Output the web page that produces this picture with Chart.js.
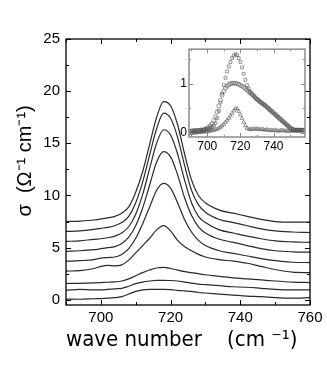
<!DOCTYPE html>
<html>
<head>
<meta charset="utf-8">
<script src="https://cdn.jsdelivr.net/npm/chart.js@4.4.1/dist/chart.umd.min.js"></script>
<style>
body{margin:0;background:#fff;}
#wrap{position:relative;width:327px;height:382px;}
#mainChart{position:absolute;left:0;top:0;}
#insetChart{position:absolute;left:170px;top:40px;}
</style>
</head>
<body>
<div id="wrap">
<canvas id="mainChart" width="327" height="382"></canvas>
<canvas id="insetChart" width="140" height="115"></canvas>
</div>
<script>
/*====================================
        MAIN SPECTRA DATA
====================================*/

const waveNumber = [690,694,698,700,702,704,706,708,710,712,714,716,718,720,722,724,726,728,730,734,738,742,746,750,755,760];

const curve1 = [7.5,7.55,7.65,7.75,7.85,8.0,8.3,8.9,10.3,12.3,14.9,17.5,19.0,18.6,16.8,14.0,11.5,10.0,9.3,8.6,8.3,8.0,7.7,7.5,7.45,7.45];
const curve2 = [6.55,6.6,6.75,6.85,6.95,7.1,7.4,8.0,9.3,11.3,13.9,16.4,17.9,17.4,15.6,12.9,10.5,9.1,8.4,7.7,7.4,7.1,6.8,6.6,6.5,6.45];
const curve3 = [5.6,5.65,5.8,5.85,5.95,6.1,6.4,7.0,8.2,10.1,12.6,15.0,16.3,15.8,14.0,11.5,9.3,8.0,7.4,6.7,6.4,6.1,5.85,5.65,5.55,5.5];
const curve4 = [4.65,4.7,4.8,4.9,5.0,5.1,5.4,6.0,7.1,8.8,11.0,13.2,14.2,13.7,12.0,9.8,8.1,7.0,6.4,5.8,5.5,5.2,4.9,4.7,4.6,4.57];
const curve5 = [3.7,3.75,3.85,4.0,4.05,4.1,4.35,4.9,5.9,7.3,8.9,10.5,11.15,10.7,9.3,7.7,6.5,5.7,5.2,4.7,4.45,4.2,3.95,3.75,3.6,3.57];
const curve6 = [2.75,2.8,3.0,3.2,3.3,3.25,3.35,3.8,4.5,5.2,5.9,6.7,7.1,6.6,5.7,5.1,4.7,4.35,4.1,3.85,3.7,3.5,3.2,2.9,2.65,2.6];
const curve7 = [1.56,1.58,1.62,1.65,1.68,1.72,1.8,2.0,2.3,2.6,2.85,3.05,3.1,3.0,2.85,2.7,2.6,2.5,2.4,2.25,2.1,2.0,1.9,1.8,1.7,1.65];
const curve8 = [0.9,1.0,0.95,0.95,1.0,1.05,1.1,1.3,1.55,1.7,1.8,1.87,1.87,1.85,1.8,1.7,1.6,1.5,1.45,1.35,1.25,1.2,1.1,1.0,0.95,0.95];
const curve9 = [0.07,0.05,0.1,0.12,0.15,0.2,0.3,0.55,0.8,0.95,1.0,1.0,1.0,0.98,0.9,0.85,0.8,0.7,0.65,0.55,0.45,0.35,0.3,0.2,0.15,0.2];

const curves = [curve1,curve2,curve3,curve4,curve5,curve6,curve7,curve8,curve9];

const xTicks = [700,720,740,760];
const xMinor = [690,710,730,750];
const yTicks = [0,5,10,15,20,25];
const yMinor = [2.5,7.5,12.5,17.5,22.5];


/*====================================
        INSET DATA
====================================*/

const insetX = [690,691,692,693,694,695,696,697,698,699,700,701,702,703,704,705,706,707,708,709,710,711,712,713,714,715,716,717,718,719,720,721,722,723,724,725,726,727,728,729,730,731,732,733,734,735,736,737,738,739,740,741,742,743,744,745,746,747,748,749,750,751,752,753,754,755,756,757,758];

const insetSquares = [0.05,0.04,0.06,0.05,0.05,0.06,0.05,0.07,0.06,0.07,0.08,0.08,0.1,0.12,0.15,0.2,0.3,0.45,0.62,0.8,0.97,1.12,1.25,1.35,1.44,1.52,1.57,1.6,1.58,1.52,1.44,1.33,1.2,1.08,0.97,0.9,0.84,0.8,0.76,0.72,0.69,0.66,0.63,0.6,0.58,0.55,0.52,0.49,0.46,0.43,0.4,0.37,0.34,0.31,0.28,0.25,0.22,0.19,0.16,0.13,0.1,0.08,0.07,0.06,0.07,0.06,0.05,0.06,0.06];

const insetCircles = [0.03,0.04,0.03,0.05,0.04,0.05,0.06,0.05,0.07,0.08,0.1,0.12,0.15,0.19,0.25,0.33,0.43,0.55,0.67,0.77,0.85,0.91,0.95,0.98,1.0,1.01,1.01,1.01,1.0,0.99,0.97,0.95,0.93,0.9,0.87,0.84,0.81,0.78,0.75,0.72,0.68,0.66,0.63,0.61,0.58,0.56,0.53,0.5,0.47,0.44,0.41,0.38,0.35,0.32,0.29,0.26,0.23,0.2,0.17,0.14,0.11,0.09,0.07,0.06,0.05,0.06,0.05,0.06,0.05];

const insetTriangles = [-0.01,0.0,0.01,0.0,0.02,0.01,0.02,0.03,0.02,0.03,0.04,0.03,0.05,0.05,0.06,0.07,0.08,0.1,0.12,0.15,0.18,0.22,0.26,0.3,0.35,0.4,0.45,0.5,0.49,0.44,0.37,0.3,0.22,0.15,0.1,0.08,0.07,0.08,0.09,0.08,0.09,0.08,0.07,0.08,0.07,0.06,0.07,0.06,0.05,0.06,0.05,0.06,0.05,0.04,0.05,0.06,0.05,0.04,0.05,0.04,0.04,0.05,0.04,0.05,0.06,0.05,0.06,0.05,0.06];

const insetXTicks = [700,720,740];
const insetXMinor = [690,710,730,750];
const insetYTicks = [0,1];
const insetYMinor = [0.5,1.5];


/*====================================
        FRAME + INWARD TICKS
====================================*/

function frameTicks(color, width, xMaj, xMin, yMaj, yMin, majLen, minLen){
    return {
        id:"frameTicks",
        afterDraw(chart){
            const ctx = chart.ctx;
            const a = chart.chartArea;
            const sx = chart.scales.x;
            const sy = chart.scales.y;
            ctx.save();
            ctx.strokeStyle = color;
            ctx.lineWidth = width;
            ctx.strokeRect(a.left, a.top, a.right - a.left, a.bottom - a.top);
            ctx.lineWidth = 1;
            ctx.beginPath();
            const tx = (v, len) => {
                const p = Math.round(sx.getPixelForValue(v)) + 0.5;
                ctx.moveTo(p, a.bottom); ctx.lineTo(p, a.bottom - len);
                ctx.moveTo(p, a.top); ctx.lineTo(p, a.top + len);
            };
            const ty = (v, len) => {
                const p = Math.round(sy.getPixelForValue(v)) + 0.5;
                ctx.moveTo(a.left, p); ctx.lineTo(a.left + len, p);
                ctx.moveTo(a.right, p); ctx.lineTo(a.right - len, p);
            };
            xMaj.forEach(v => tx(v, majLen));
            xMin.forEach(v => tx(v, minLen));
            yMaj.forEach(v => ty(v, majLen));
            yMin.forEach(v => ty(v, minLen));
            ctx.stroke();
            ctx.restore();
        }
    };
}


/*====================================
        MAIN CHART
====================================*/

const mainChart = new Chart(

document.getElementById("mainChart"),

{

type:"line",

data:{
    datasets: curves.map(c => ({
        data: waveNumber.map((x, i) => ({x: x, y: c[i]})),
        borderColor:"#2a2a2a",
        borderWidth:1.2,
        pointRadius:0,
        fill:false,
        cubicInterpolationMode:"monotone"
    }))
},

options:{
    responsive:false,
    animation:false,
    layout:{padding:{left:0, right:17, top:39, bottom:0}},
    plugins:{
        legend:{display:false},
        tooltip:{enabled:false}
    },
    scales:{
        x:{
            type:"linear",
            min:690,
            max:760,
            afterBuildTicks: s => { s.ticks = xTicks.map(v => ({value:v})); },
            afterFit: s => { s.height = 77; },
            grid:{display:false, drawTicks:false},
            border:{display:false},
            ticks:{color:"#000", padding:4, maxRotation:0, font:{family:"Liberation Sans", size:15}},
            title:{
                display:true,
                text:"wave number    (cm ⁻¹)  ",
                color:"#000",
                font:{family:"DejaVu Sans", size:21},
                padding:{top:0, bottom:29}
            }
        },
        y:{
            type:"linear",
            min:-0.5,
            max:25,
            afterBuildTicks: s => { s.ticks = yTicks.map(v => ({value:v})); },
            afterFit: s => { s.width = 66; },
            grid:{display:false, drawTicks:false},
            border:{display:false},
            ticks:{color:"#000", padding:6, font:{family:"Liberation Sans", size:15}},
            title:{
                display:true,
                text:"    σ  (Ω⁻¹ cm⁻¹)",
                color:"#000",
                font:{family:"Liberation Sans", size:20},
                padding:{top:13, bottom:0}
            }
        }
    }
},

plugins:[frameTicks("#000", 1.3, xTicks, xMinor, yTicks, yMinor, 5, 3)]

});


/*====================================
        INSET CHART
====================================*/

function insetSet(values, style, radius){
    return {
        data: insetX.map((x, i) => ({x: x, y: values[i]})),
        showLine:false,
        pointStyle:style,
        pointRadius:radius,
        pointBorderWidth:0.6,
        pointBorderColor:"#555",
        pointBackgroundColor:"rgba(255,255,255,0)"
    };
}

const insetChart = new Chart(

document.getElementById("insetChart"),

{

type:"scatter",

data:{
    datasets:[
        insetSet(insetCircles, "circle", 2),
        insetSet(insetSquares, "rect", 2),
        insetSet(insetTriangles, "triangle", 2.2)
    ]
},

options:{
    responsive:false,
    animation:false,
    layout:{padding:{left:0, right:5, top:5, bottom:0}},
    plugins:{
        legend:{display:false},
        tooltip:{enabled:false}
    },
    scales:{
        x:{
            type:"linear",
            min:689,
            max:759,
            afterBuildTicks: s => { s.ticks = insetXTicks.map(v => ({value:v})); },
            afterFit: s => { s.height = 18; },
            grid:{display:false, drawTicks:false},
            border:{display:false},
            ticks:{color:"#000", padding:2, maxRotation:0, font:{family:"Liberation Sans", size:12}}
        },
        y:{
            type:"linear",
            min:-0.08,
            max:1.7,
            afterBuildTicks: s => { s.ticks = insetYTicks.map(v => ({value:v})); },
            afterFit: s => { s.width = 19; },
            grid:{display:false, drawTicks:false},
            border:{display:false},
            ticks:{color:"#000", padding:2, font:{family:"Liberation Sans", size:12}}
        }
    }
},

plugins:[frameTicks("#8c8c8c", 1.5, insetXTicks, insetXMinor, [0,1], insetYMinor, 4, 2)]

});
</script>
</body>
</html>
